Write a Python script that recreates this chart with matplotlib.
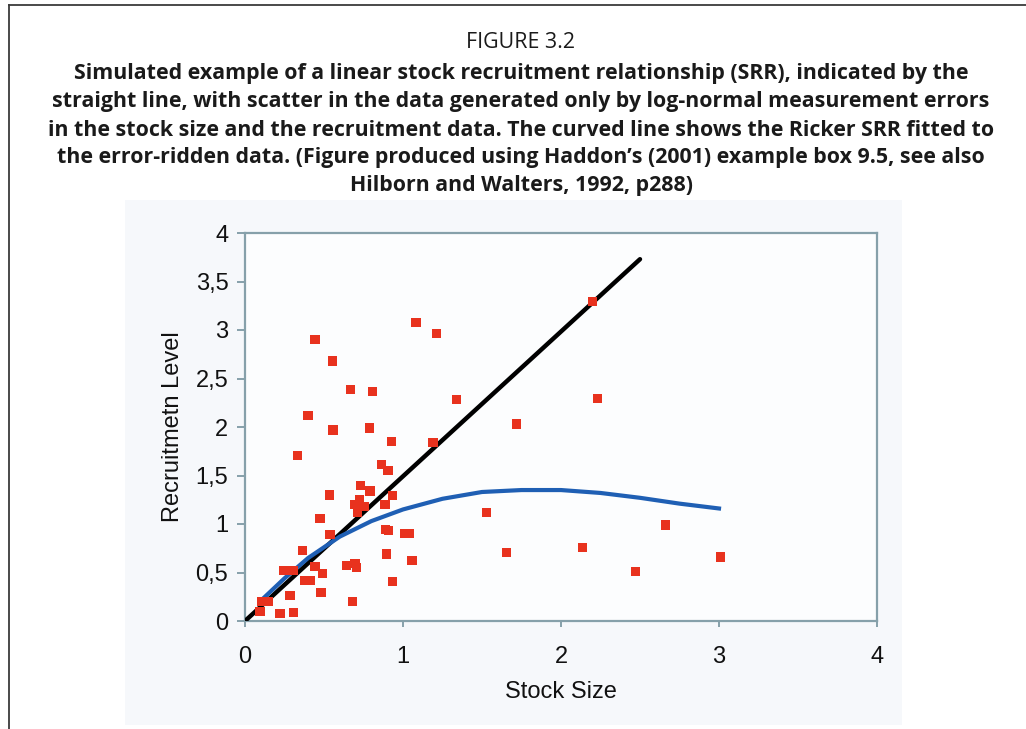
import matplotlib.pyplot as plt
from matplotlib.patches import Rectangle
from matplotlib.lines import Line2D

stock = [0.443, 0.553, 0.669, 0.808, 0.399, 0.557, 0.787, 0.926, 0.331, 1.082, 1.213, 1.19,
         0.865, 0.905, 0.732, 0.791, 0.534, 0.935, 0.724, 0.696, 0.753, 0.711, 0.886, 0.475,
         0.89, 0.907, 1.01, 1.04, 0.538, 0.363, 0.897, 1.057, 0.644, 0.696, 0.707, 0.443,
         0.49, 0.242, 0.274, 0.306, 0.375, 0.416, 0.935, 0.481, 0.285, 0.679, 0.105, 0.148,
         0.095, 0.222, 0.306, 1.34, 1.72, 2.20, 2.23, 1.53, 1.656, 2.137, 2.66, 2.47, 3.01]
recruit = [2.90, 2.68, 2.39, 2.37, 2.12, 1.97, 1.99, 1.85, 1.71, 3.08, 2.96, 1.84,
           1.61, 1.55, 1.40, 1.34, 1.30, 1.29, 1.25, 1.20, 1.18, 1.12, 1.20, 1.06,
           0.94, 0.93, 0.90, 0.90, 0.89, 0.73, 0.69, 0.62, 0.57, 0.595, 0.553, 0.56,
           0.49, 0.52, 0.52, 0.52, 0.42, 0.42, 0.405, 0.29, 0.26, 0.20, 0.20, 0.20,
           0.096, 0.08, 0.086, 2.28, 2.03, 3.29, 2.29, 1.12, 0.705, 0.756, 0.99, 0.51, 0.66]

# true linear SRR
line_x = [0.0, 2.5]
line_y = [0.0, 3.73]

# fitted Ricker curve
ricker_x = [0.12, 0.25, 0.4, 0.6, 0.8, 1.0, 1.25, 1.5, 1.75, 2.0, 2.25, 2.5, 2.75, 3.0]
ricker_y = [0.24, 0.44, 0.65, 0.87, 1.03, 1.15, 1.26, 1.33, 1.35, 1.35, 1.32, 1.27, 1.21, 1.16]

xticks = [0, 1, 2, 3, 4]
yticks = [0, 0.5, 1, 1.5, 2, 2.5, 3, 3.5, 4]
ytick_labels = ["0", "0,5", "1", "1,5", "2", "2,5", "3", "3,5", "4"]

title_top = "FIGURE 3.2"
caption = [
    "Simulated example of a linear stock recruitment relationship (SRR), indicated by the",
    "straight line, with scatter in the data generated only by log-normal measurement errors",
    "in the stock size and the recruitment data. The curved line shows the Ricker SRR fitted to",
    "the error-ridden data. (Figure produced using Haddon\u2019s (2001) example box 9.5, see also",
    "Hilborn and Walters, 1992, p288)",
]

W, H = 1026, 729
fig = plt.figure(figsize=(W / 100, H / 100), dpi=100)
fig.patch.set_facecolor("white")

# outer page frame (top and left edges visible)
fig.add_artist(Line2D([9 / W, 1.0], [1 - 5 / H, 1 - 5 / H], color="#3a3a3a", lw=1.3))
fig.add_artist(Line2D([9 / W, 9 / W], [0, 1 - 5 / H], color="#3a3a3a", lw=1.3))

# light chart panel
fig.add_artist(Rectangle((125 / W, 4 / H), 777 / W, 525 / H, facecolor="#f6f8fb",
                         edgecolor="none", zorder=0))

fig.text(521 / W, 1 - 42 / H, title_top, ha="center", va="center",
         fontsize=15.4, family="Open Sans", color="#1a1a1a")
for i, line in enumerate(caption):
    fig.text(521 / W, 1 - (74 + 28 * i) / H, line, ha="center", va="center",
             fontsize=15.4, fontweight="bold", family="Open Sans", color="#1a1a1a")

ax = fig.add_axes([245 / W, 108 / H, 632 / W, 388 / H])
ax.set_facecolor("#fcfdfe")

ax.plot(line_x, line_y, color="black", lw=3.2, solid_capstyle="round", zorder=3)
ax.plot(ricker_x, ricker_y, color="#1f5fb4", lw=3, zorder=3)
ax.scatter(stock, recruit, marker="s", s=44, color="#e8321e", edgecolors="none", zorder=4)

ax.set_xlim(0, 4)
ax.set_ylim(0, 4)
ax.set_xticks(xticks)
ax.set_xticklabels([str(t) for t in xticks])
ax.set_yticks(yticks)
ax.set_yticklabels(ytick_labels)

for sp in ax.spines.values():
    sp.set_color("#86a0aa")
    sp.set_linewidth(1.6)

ax.tick_params(axis="x", direction="out", length=4, width=1.4, color="#86a0aa",
               pad=14, labelsize=17)
ax.tick_params(axis="y", direction="out", length=6, width=1.4, color="#86a0aa",
               pad=6, labelsize=17)
for lab in ax.get_xticklabels() + ax.get_yticklabels():
    lab.set_family("Liberation Sans")
    lab.set_color("#111111")

ax.set_xlabel("Stock Size", fontsize=17, family="Liberation Sans", color="#111111", labelpad=9)
ax.set_ylabel("Recruitmetn Level", fontsize=17, family="Liberation Sans", color="#111111",
              labelpad=8)

fig.savefig("out.png", dpi=100)
